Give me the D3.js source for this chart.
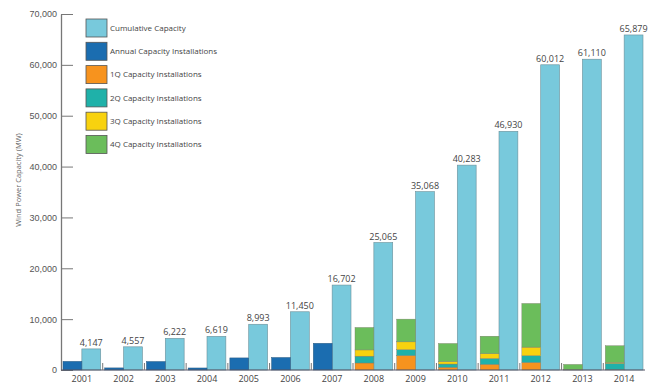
<!DOCTYPE html>
<html>
<head>
<meta charset="utf-8">
<script src="https://cdn.jsdelivr.net/npm/d3@7"></script>
<style>
  body { margin: 0; background: #fff; }
  svg { display: block; font-family: "Open Sans", "DejaVu Sans", sans-serif; }
  .tick text { fill: #555; font-size: 9px; }
</style>
</head>
<body>
<svg id="chart" width="652" height="385"></svg>
<script>
// years on the x axis
const years = ["2001","2002","2003","2004","2005","2006","2007","2008","2009","2010","2011","2012","2013","2014"];
// cumulative capacity, MW
const cumulative = [4147, 4557, 6222, 6619, 8993, 11450, 16702, 25065, 35068, 40283, 46930, 60012, 61110, 65879];
// annual installs 2001-2007 (dark blue)
const annualYears = ["2001","2002","2003","2004","2005","2006","2007"];
const annual = [1697, 410, 1665, 397, 2374, 2457, 5252];
// quarterly installs 2008-2014
const quarterYears = ["2008","2009","2010","2011","2012","2013","2014"];
const q1 = [1380, 2836, 540, 1118, 1490, 0, 50];
const q2 = [1340, 1150, 630, 1140, 1310, 2, 1250];
const q3 = [1230, 1550, 500, 950, 1700, 70, 200];
const q4 = [4413, 4467, 3545, 3439, 8582, 1026, 3269];
const yTicks = [0, 10000, 20000, 30000, 40000, 50000, 60000, 70000];

const legendLabels = ["Cumulative Capacity", "Annual Capacity Installations", "1Q Capacity Installations",
  "2Q Capacity Installations", "3Q Capacity Installations", "4Q Capacity Installations"];
const colors = {
  cum: "#78c9dc", annual: "#1b6db0",
  q1: "#f7931e", q2: "#1fb1a9", q3: "#f8d20f", q4: "#6bbd5b"
};

const svg = d3.select("#chart");
const g = svg.append("g");

const x = d3.scaleBand().domain(years).range([61, 645]);
const slot = d3.scaleBand().domain(["inst", "cum"]).range([2, x.bandwidth() - 2]);
const y = d3.scaleLinear().domain([0, 70000]).range([370, 14]);

// y axis
const yAxis = g.append("g")
  .attr("transform", "translate(61,0)")
  .call(d3.axisLeft(y).tickValues(yTicks).tickFormat(d3.format(","))
    .tickSizeInner(-12).tickSizeOuter(0).tickPadding(4));
yAxis.selectAll("line").attr("stroke", "#777");
yAxis.select(".domain").attr("stroke", "#777").attr("stroke-width", 1.3);
yAxis.selectAll("text").attr("x", -4);

g.append("text")
  .attr("transform", "translate(21,180) rotate(-90)")
  .attr("text-anchor", "middle")
  .attr("font-size", 7.5)
  .attr("fill", "#666")
  .text("Wind Power Capacity (MW)");

// cumulative bars
g.selectAll(".cum")
  .data(years)
  .enter()
  .append("rect")
  .attr("class", "cum")
  .attr("x", d => x(d) + slot("cum"))
  .attr("width", slot.bandwidth())
  .attr("y", (d, i) => y(cumulative[i]))
  .attr("height", (d, i) => y(0) - y(cumulative[i]))
  .attr("fill", colors.cum)
  .attr("stroke", "#6a8f99")
  .attr("stroke-width", 0.6);

// annual bars
g.selectAll(".annual")
  .data(annualYears)
  .enter()
  .append("rect")
  .attr("class", "annual")
  .attr("x", d => x(d) + slot("inst"))
  .attr("width", slot.bandwidth())
  .attr("y", (d, i) => y(annual[i]))
  .attr("height", (d, i) => y(0) - y(annual[i]))
  .attr("fill", colors.annual)
  .attr("stroke", "#2a5a80")
  .attr("stroke-width", 0.5);

// quarterly stacks
const qRows = quarterYears.map((yr, i) => ({ year: yr, q1: q1[i], q2: q2[i], q3: q3[i], q4: q4[i] }));
const stacked = d3.stack().keys(["q1", "q2", "q3", "q4"])(qRows);

g.selectAll(".layer")
  .data(stacked)
  .enter()
  .append("g")
  .attr("class", "layer")
  .attr("fill", d => colors[d.key])
  .selectAll("rect")
  .data(d => d)
  .enter()
  .append("rect")
  .attr("x", d => x(d.data.year) + slot("inst"))
  .attr("width", slot.bandwidth())
  .attr("y", d => y(d[1]))
  .attr("height", d => y(d[0]) - y(d[1]))
  .attr("stroke", "#7a7a6a")
  .attr("stroke-width", 0.4);

// value labels
g.selectAll(".val")
  .data(years)
  .enter()
  .append("text")
  .attr("class", "val")
  .attr("x", d => x(d) + slot("cum") + slot.bandwidth() / 2)
  .attr("y", (d, i) => y(cumulative[i]) - 3)
  .attr("text-anchor", "middle")
  .attr("font-size", 9)
  .attr("fill", "#444")
  .text((d, i) => d3.format(",")(cumulative[i]));

// x axis baseline + separators
g.append("line")
  .attr("x1", 61).attr("x2", 645)
  .attr("y1", y(0)).attr("y2", y(0))
  .attr("stroke", "#556").attr("stroke-width", 1.2);

g.selectAll(".sep")
  .data(years.slice(1))
  .enter()
  .append("line")
  .attr("x1", d => x(d)).attr("x2", d => x(d))
  .attr("y1", y(0) - 7).attr("y2", y(0))
  .attr("stroke", "#777");

g.selectAll(".year")
  .data(years)
  .enter()
  .append("text")
  .attr("x", d => x(d) + x.bandwidth() / 2)
  .attr("y", 382)
  .attr("text-anchor", "middle")
  .attr("font-size", 9)
  .attr("fill", "#444")
  .text(d => d);

// legend
const legendColors = [colors.cum, colors.annual, colors.q1, colors.q2, colors.q3, colors.q4];
const legend = g.selectAll(".leg")
  .data(legendLabels)
  .enter()
  .append("g")
  .attr("class", "leg")
  .attr("transform", (d, i) => `translate(86,${19 + i * 23.3})`);

legend.append("rect")
  .attr("width", 21)
  .attr("height", 18)
  .attr("fill", (d, i) => legendColors[i])
  .attr("stroke", "#555")
  .attr("stroke-width", 0.8);

legend.append("text")
  .attr("x", 24)
  .attr("y", 9)
  .attr("dy", "0.35em")
  .attr("font-size", 8)
  .attr("fill", "#444")
  .text(d => d);
</script>
</body>
</html>
